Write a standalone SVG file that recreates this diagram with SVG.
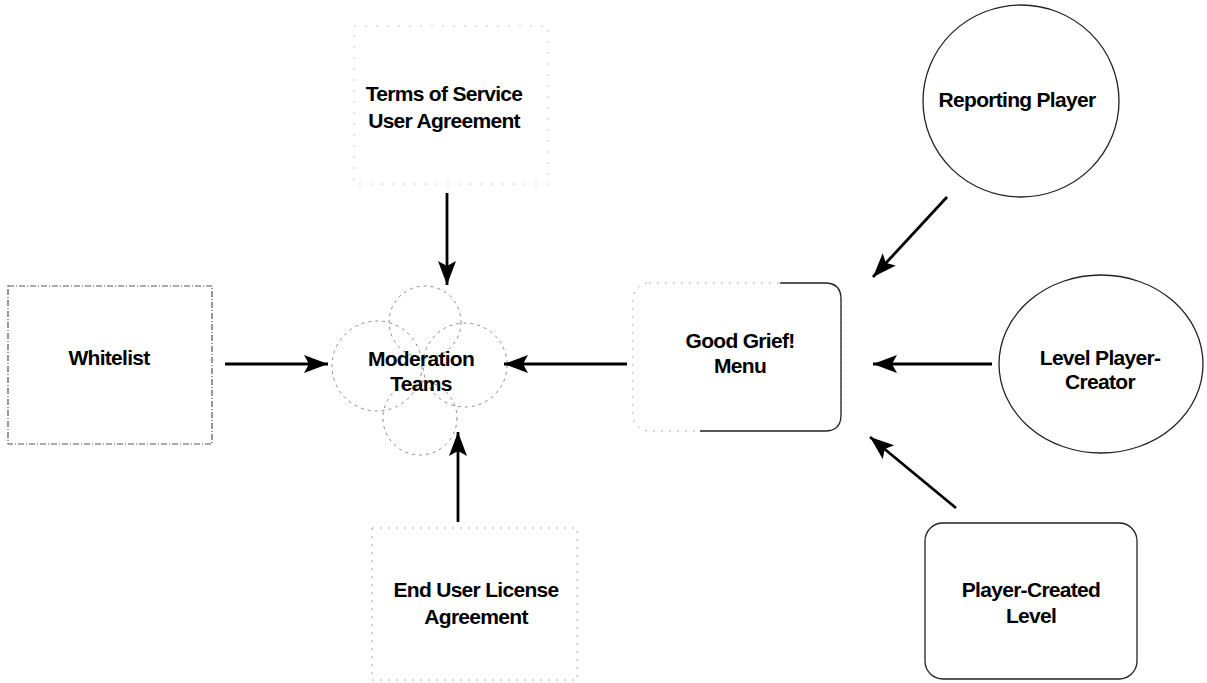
<svg xmlns="http://www.w3.org/2000/svg" width="1207" height="683" viewBox="0 0 1207 683">
<style>
  .lbl { font-family: "Liberation Sans", Arial, sans-serif; font-weight: bold; font-size: 21px; fill: #000; text-anchor: middle; letter-spacing: -0.7px; }
  .faint { fill: none; stroke: #aaa; stroke-width: 1; stroke-dasharray: 2 6; }
  .fainter { fill: none; stroke: #c8c8c8; stroke-width: 1; stroke-dasharray: 2 9; }
  .dashbox { fill: none; stroke: #555; stroke-width: 1.2; stroke-dasharray: 6 2 1 2; }
  .cloud { fill: none; stroke: #8a8a8a; stroke-width: 1; stroke-dasharray: 3 4; }
  .solid { fill: none; stroke: #222; stroke-width: 1.3; }
  .conn { stroke: #000; stroke-width: 2.8; fill: none; marker-end: url(#ah); }
</style>
<defs>
  <marker id="ah" markerUnits="userSpaceOnUse" markerWidth="26" markerHeight="20" refX="24" refY="9" orient="auto">
    <path d="M0,0 L24,9 L0,18 L5,9 z" fill="#000"/>
  </marker>
</defs>
<rect width="1207" height="683" fill="#fff"/>

<g id="whitelist">
  <rect class="dashbox" x="8" y="286" width="204" height="158"/>
  <text class="lbl" x="109" y="365">Whitelist</text>
</g>

<g id="terms">
  <rect class="fainter" x="354" y="26" width="194" height="158"/>
  <text class="lbl" x="444" y="101">Terms of Service</text>
  <text class="lbl" x="444" y="128">User Agreement</text>
</g>

<g id="moderation">
  <circle class="cloud" cx="425" cy="322" r="36"/>
  <circle class="cloud" cx="377" cy="366" r="45"/>
  <circle class="cloud" cx="465" cy="365" r="42"/>
  <circle class="cloud" cx="420" cy="418" r="37"/>
  <text class="lbl" x="421" y="366">Moderation</text>
  <text class="lbl" x="421" y="391">Teams</text>
</g>

<g id="eula">
  <rect class="faint" x="372" y="528" width="205" height="152"/>
  <text class="lbl" x="476" y="597">End User License</text>
  <text class="lbl" x="476" y="624">Agreement</text>
</g>

<g id="goodgrief">
  <rect class="faint" x="633" y="283" width="208" height="148" rx="16"/>
  <path class="solid" d="M780,283 L825,283 Q841,283 841,299 L841,415 Q841,431 825,431 L700,431"/>
  <text class="lbl" x="740" y="348">Good Grief!</text>
  <text class="lbl" x="740" y="373">Menu</text>
</g>

<g id="reporting">
  <ellipse class="solid" cx="1021" cy="101" rx="98" ry="96"/>
  <text class="lbl" x="1017" y="107">Reporting Player</text>
</g>

<g id="levelcreator">
  <ellipse class="solid" cx="1101" cy="364" rx="102" ry="89"/>
  <text class="lbl" x="1100" y="365">Level Player-</text>
  <text class="lbl" x="1100" y="389">Creator</text>
</g>

<g id="playercreated">
  <rect class="solid" x="925" y="523" width="212" height="156" rx="18"/>
  <text class="lbl" x="1031" y="597">Player-Created</text>
  <text class="lbl" x="1031" y="623">Level</text>
</g>

<g id="connectors">
  <line class="conn" x1="447" y1="193" x2="447" y2="285"/>
  <line class="conn" x1="225" y1="364" x2="328" y2="364"/>
  <line class="conn" x1="627" y1="364" x2="504" y2="364"/>
  <line class="conn" x1="458" y1="522" x2="458" y2="432"/>
  <line class="conn" x1="947" y1="197" x2="873" y2="277"/>
  <line class="conn" x1="992" y1="364" x2="873" y2="364"/>
  <line class="conn" x1="956" y1="508" x2="870" y2="437"/>
</g>
</svg>
